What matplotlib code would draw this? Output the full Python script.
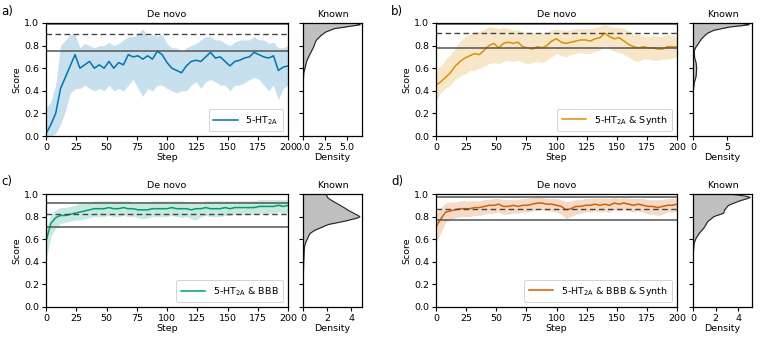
import numpy as np
import matplotlib
matplotlib.use("Agg")
import matplotlib.pyplot as plt

plt.rcParams['font.family'] = ['DejaVu Sans']
FS = 6.8

steps = [0, 4, 8, 12, 16, 20, 24, 28, 32, 36, 40, 44, 48, 52, 56, 60, 64, 68, 72, 76,
         80, 84, 88, 92, 96, 100, 104, 108, 112, 116, 120, 124, 128, 132, 136, 140, 144, 148, 152, 156,
         160, 164, 168, 172, 176, 180, 184, 188, 192, 196, 200]

labels = ["5-HT$_{\\mathrm{2A}}$", "5-HT$_{\\mathrm{2A}}$ & Synth",
          "5-HT$_{\\mathrm{2A}}$ & BBB", "5-HT$_{\\mathrm{2A}}$ & BBB & Synth"]
panel_tags = ["a)", "b)", "c)", "d)"]

# ---- panel a: 5-HT2A ----
mean_a = [0.02, 0.10, 0.20, 0.42, 0.52, 0.62, 0.72, 0.60, 0.63, 0.66,
          0.60, 0.63, 0.60, 0.66, 0.60, 0.65, 0.63, 0.72, 0.70, 0.71,
          0.68, 0.71, 0.68, 0.75, 0.72, 0.65, 0.60, 0.58, 0.56, 0.62,
          0.66, 0.67, 0.66, 0.70, 0.74, 0.69, 0.70, 0.66, 0.62, 0.66,
          0.67, 0.69, 0.70, 0.74, 0.72, 0.70, 0.69, 0.71, 0.58, 0.61, 0.62]
upper_a = [0.25, 0.30, 0.45, 0.80, 0.85, 0.90, 0.90, 0.78, 0.82, 0.80,
           0.78, 0.80, 0.80, 0.83, 0.80, 0.82, 0.85, 0.88, 0.88, 0.90,
           0.95, 0.88, 0.90, 0.88, 0.90, 0.82, 0.78, 0.78, 0.75, 0.78,
           0.80, 0.82, 0.85, 0.88, 0.88, 0.85, 0.85, 0.82, 0.80, 0.83,
           0.85, 0.85, 0.85, 0.88, 0.85, 0.85, 0.82, 0.83, 0.78, 0.78, 0.80]
lower_a = [0.00, 0.00, 0.02, 0.10, 0.22, 0.38, 0.42, 0.42, 0.45, 0.42,
           0.40, 0.42, 0.40, 0.45, 0.40, 0.42, 0.40, 0.45, 0.50, 0.42,
           0.35, 0.42, 0.40, 0.45, 0.45, 0.42, 0.40, 0.38, 0.40, 0.40,
           0.45, 0.48, 0.42, 0.48, 0.50, 0.48, 0.45, 0.45, 0.40, 0.45,
           0.45, 0.47, 0.50, 0.52, 0.50, 0.45, 0.40, 0.45, 0.32, 0.42, 0.45]

# ---- panel b: 5-HT2A & Synth ----
mean_b = [0.45, 0.48, 0.52, 0.56, 0.62, 0.66, 0.69, 0.71, 0.73, 0.72,
          0.76, 0.80, 0.82, 0.78, 0.82, 0.83, 0.82, 0.83, 0.79, 0.78,
          0.77, 0.79, 0.78, 0.80, 0.84, 0.86, 0.83, 0.82, 0.83, 0.84,
          0.85, 0.85, 0.84, 0.86, 0.87, 0.91, 0.88, 0.86, 0.87, 0.84,
          0.81, 0.79, 0.78, 0.79, 0.78, 0.78, 0.77, 0.77, 0.79, 0.79, 0.79]
upper_b = [0.60, 0.62, 0.68, 0.72, 0.78, 0.84, 0.88, 0.90, 0.92, 0.93,
           0.94, 0.97, 0.96, 0.95, 0.96, 0.95, 0.94, 0.94, 0.92, 0.92,
           0.91, 0.91, 0.91, 0.92, 0.94, 0.95, 0.94, 0.93, 0.94, 0.95,
           0.95, 0.95, 0.95, 0.96, 0.97, 0.99, 0.97, 0.96, 0.96, 0.95,
           0.93, 0.90, 0.90, 0.89, 0.88, 0.89, 0.88, 0.88, 0.90, 0.89, 0.88]
lower_b = [0.32, 0.38, 0.42, 0.45, 0.50, 0.53, 0.55, 0.58, 0.58, 0.60,
           0.62, 0.64, 0.65, 0.64, 0.66, 0.67, 0.66, 0.67, 0.65, 0.64,
           0.65, 0.66, 0.65, 0.67, 0.70, 0.73, 0.71, 0.70, 0.72, 0.73,
           0.74, 0.73, 0.73, 0.75, 0.76, 0.80, 0.77, 0.75, 0.74, 0.72,
           0.70, 0.67, 0.66, 0.68, 0.68, 0.67, 0.67, 0.68, 0.68, 0.69, 0.70]

# ---- panel c: 5-HT2A & BBB ----
mean_c = [0.58, 0.74, 0.79, 0.81, 0.81, 0.82, 0.83, 0.84, 0.85, 0.86,
          0.87, 0.87, 0.87, 0.88, 0.87, 0.87, 0.88, 0.87, 0.87, 0.86,
          0.86, 0.86, 0.87, 0.87, 0.87, 0.87, 0.88, 0.87, 0.87, 0.87,
          0.86, 0.87, 0.87, 0.88, 0.87, 0.87, 0.87, 0.88, 0.87, 0.88,
          0.88, 0.88, 0.88, 0.88, 0.89, 0.89, 0.89, 0.89, 0.90, 0.89, 0.90]
upper_c = [0.68, 0.82, 0.86, 0.88, 0.88, 0.89, 0.90, 0.92, 0.93, 0.93,
           0.94, 0.94, 0.94, 0.94, 0.94, 0.94, 0.94, 0.94, 0.93, 0.93,
           0.93, 0.93, 0.94, 0.94, 0.94, 0.94, 0.94, 0.94, 0.94, 0.93,
           0.93, 0.93, 0.93, 0.94, 0.94, 0.94, 0.94, 0.94, 0.94, 0.94,
           0.94, 0.94, 0.94, 0.94, 0.95, 0.95, 0.95, 0.95, 0.95, 0.95, 0.95]
lower_c = [0.42, 0.62, 0.70, 0.74, 0.75, 0.76, 0.77, 0.77, 0.78, 0.79,
           0.80, 0.80, 0.80, 0.81, 0.80, 0.80, 0.81, 0.80, 0.80, 0.79,
           0.78, 0.79, 0.80, 0.80, 0.80, 0.80, 0.81, 0.80, 0.79, 0.80,
           0.78, 0.77, 0.80, 0.81, 0.80, 0.80, 0.80, 0.81, 0.81, 0.82,
           0.81, 0.82, 0.82, 0.82, 0.83, 0.83, 0.83, 0.83, 0.84, 0.83, 0.84]

# ---- panel d: 5-HT2A & BBB & Synth ----
mean_d = [0.71, 0.78, 0.84, 0.85, 0.86, 0.87, 0.87, 0.87, 0.88, 0.88,
          0.89, 0.90, 0.90, 0.91, 0.89, 0.89, 0.90, 0.89, 0.90, 0.90,
          0.91, 0.92, 0.92, 0.91, 0.91, 0.90, 0.89, 0.86, 0.87, 0.89,
          0.89, 0.90, 0.90, 0.91, 0.90, 0.91, 0.90, 0.92, 0.91, 0.92,
          0.91, 0.90, 0.91, 0.90, 0.89, 0.89, 0.88, 0.89, 0.90, 0.90, 0.91]
upper_d = [0.83, 0.88, 0.92, 0.93, 0.93, 0.94, 0.94, 0.94, 0.94, 0.94,
           0.95, 0.95, 0.96, 0.96, 0.95, 0.95, 0.95, 0.95, 0.96, 0.96,
           0.97, 0.99, 0.97, 0.96, 0.96, 0.96, 0.95, 0.93, 0.94, 0.95,
           0.95, 0.96, 0.96, 0.96, 0.96, 0.96, 0.96, 0.97, 0.96, 0.97,
           0.96, 0.96, 0.96, 0.96, 0.95, 0.95, 0.95, 0.95, 0.96, 0.96, 0.96]
lower_d = [0.56, 0.66, 0.75, 0.77, 0.79, 0.80, 0.80, 0.80, 0.81, 0.81,
           0.82, 0.83, 0.83, 0.84, 0.82, 0.82, 0.83, 0.83, 0.84, 0.84,
           0.85, 0.86, 0.86, 0.85, 0.85, 0.84, 0.82, 0.78, 0.80, 0.82,
           0.83, 0.84, 0.84, 0.85, 0.84, 0.85, 0.84, 0.86, 0.85, 0.86,
           0.85, 0.84, 0.85, 0.84, 0.82, 0.82, 0.81, 0.82, 0.84, 0.84, 0.85]

# reference lines from known compounds: (lower solid, dashed, upper solid)
ref_lines = [(0.75, 0.90, 0.995), (0.78, 0.91, 0.995), (0.71, 0.82, 0.92), (0.77, 0.87, 0.97)]

# ---- known-compound score densities ----
known_score_a = [0.0, 0.2, 0.42, 0.5, 0.56, 0.6, 0.665, 0.725, 0.785, 0.845, 0.89, 0.92, 0.95, 0.965, 0.978, 0.985, 0.993, 1.0]
known_dens_a = [0.0, 0.01, 0.03, 0.05, 0.09, 0.23, 0.43, 0.8, 1.2, 1.5, 2.07, 2.6, 3.6, 4.9, 6.0, 6.56, 6.3, 5.8]
known_score_b = [0.0, 0.3, 0.39, 0.47, 0.53, 0.6, 0.65, 0.69, 0.75, 0.78, 0.81, 0.86, 0.905, 0.935, 0.965, 0.978, 0.985, 0.993, 1.0]
known_dens_b = [0.0, 0.01, 0.04, 0.18, 0.46, 0.54, 0.45, 0.25, 0.18, 0.36, 0.7, 1.25, 2.0, 3.0, 5.4, 7.4, 8.2, 7.5, 6.5]
known_score_c = [0.0, 0.2, 0.4, 0.53, 0.565, 0.6, 0.65, 0.68, 0.73, 0.76, 0.79, 0.8, 0.82, 0.85, 0.88, 0.905, 0.935, 0.965, 1.0]
known_dens_c = [0.0, 0.02, 0.06, 0.12, 0.2, 0.35, 0.57, 1.0, 2.1, 3.5, 4.6, 4.72, 4.4, 3.85, 3.4, 3.0, 2.5, 2.07, 1.9]
known_score_d = [0.0, 0.2, 0.49, 0.565, 0.61, 0.65, 0.7, 0.755, 0.8, 0.83, 0.86, 0.9, 0.935, 0.96, 0.97, 0.98, 0.99, 1.0]
known_dens_d = [0.0, 0.01, 0.04, 0.1, 0.28, 0.54, 0.97, 1.3, 1.84, 2.7, 2.8, 3.13, 4.0, 4.8, 5.04, 4.7, 4.0, 3.0]

dens_xmax = [6.76, 8.6, 4.9, 5.2]
dens_ticks = [[0, 2.5, 5.0], [0, 5], [0, 2, 4], [0, 2, 4]]
dens_ticklabels = [["0.0", "2.5", "5.0"], ["0", "5"], ["0", "2", "4"], ["0", "2", "4"]]

colors = ["#0173b2", "#de8f05", "#029e73", "#d55e00"]

means = [mean_a, mean_b, mean_c, mean_d]
uppers = [upper_a, upper_b, upper_c, upper_d]
lowers = [lower_a, lower_b, lower_c, lower_d]
kscores = [known_score_a, known_score_b, known_score_c, known_score_d]
kdens = [known_dens_a, known_dens_b, known_dens_c, known_dens_d]

W, H = 779, 342
fig = plt.figure(figsize=(W / 100, H / 100), dpi=100)


def ax_px(l, r, t, b):
    return fig.add_axes([l / W, 1 - b / H, (r - l) / W, (b - t) / H])


col_x = [(46, 288, 303, 362), (436, 677, 693, 752)]
row_y = [(23, 136), (194, 307)]
tag_pos = [(1, 11), (391, 11), (1, 182), (391, 182)]

for i in range(4):
    r, c = divmod(i, 2)
    ml, mr, dl, dr = col_x[c]
    t, b = row_y[r]
    ax = ax_px(ml, mr, t, b)
    axd = ax_px(dl, dr, t, b)

    col = colors[i]
    ax.fill_between(steps, lowers[i], uppers[i], color=col, alpha=0.22, lw=0)
    ax.plot(steps, means[i], color=col, lw=1.1, label=labels[i])
    lo, md, hi = ref_lines[i]
    ax.axhline(lo, color="#555555", lw=1.1)
    ax.axhline(md, color="#444444", lw=1.0, ls=(0, (4, 2.5)))
    ax.axhline(hi, color="#555555", lw=1.1)
    ax.set_xlim(0, 200)
    ax.set_ylim(0, 1)
    ax.set_xticks(np.arange(0, 201, 25))
    ax.set_yticks(np.arange(0, 1.01, 0.2))
    ax.set_yticklabels([f"{v:.1f}" for v in np.arange(0, 1.01, 0.2)])
    ax.tick_params(labelsize=FS, length=3, width=0.8, pad=2)
    ax.set_xlabel("Step", fontsize=FS, labelpad=1)
    ax.set_ylabel("Score", fontsize=FS, labelpad=2)
    ax.set_title("De novo", fontsize=FS, pad=4)
    leg = ax.legend(loc="lower right", fontsize=FS, handlelength=2.6, borderpad=0.5,
                    framealpha=1.0)
    leg.get_frame().set_linewidth(0.6)

    axd.fill_betweenx(kscores[i], 0, kdens[i], color="#c0c0c0", lw=0)
    axd.plot(kdens[i], kscores[i], color="#222222", lw=0.8)
    axd.set_ylim(0, 1)
    axd.set_xlim(0, dens_xmax[i])
    axd.set_yticks(np.arange(0, 1.01, 0.2))
    axd.set_yticklabels([])
    axd.set_xticks(dens_ticks[i])
    axd.set_xticklabels(dens_ticklabels[i])
    axd.tick_params(labelsize=FS, length=3, width=0.8, pad=2)
    axd.set_xlabel("Density", fontsize=FS, labelpad=1)
    axd.set_title("Known", fontsize=FS, pad=4)

    for a in (ax, axd):
        for s in a.spines.values():
            s.set_linewidth(0.9)

    tx, ty = tag_pos[i]
    fig.text(tx / W, 1 - ty / H, panel_tags[i], fontsize=8.5, va="center", ha="left")

fig.savefig("out.png", dpi=100)
